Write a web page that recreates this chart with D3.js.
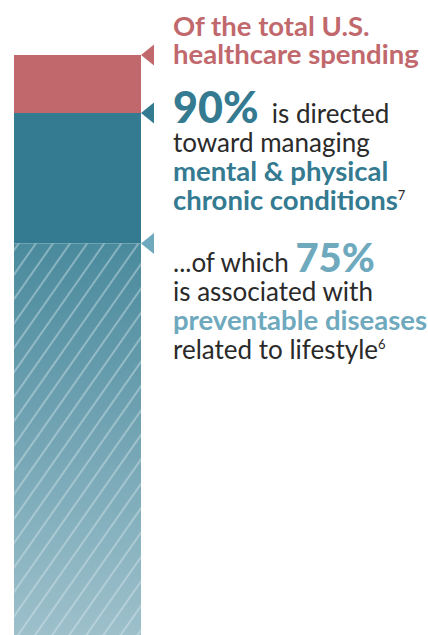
<!DOCTYPE html>
<html>
<head>
<meta charset="utf-8">
<script src="https://cdn.jsdelivr.net/npm/d3@7"></script>
<style>
  body { margin: 0; background: #fff; }
  text { font-family: Lato, "Open Sans", sans-serif; }
</style>
</head>
<body>
<div id="chart"></div>
<script>
// share of total US healthcare spending (percent), top of each segment
var segments = ["Total spending", "Chronic conditions", "Preventable diseases"];
var shares = [100, 90, 67.5];
var segColors = ["#c1686d", "#347a91", "hatch"];
var arrowColors = ["#c1686d", "#347a91", "#6ea9bd"];

// text blocks, one per segment: each line is a list of [text, style]
var blockLines = [
  [
    [["Of the total U.S.", "red"]],
    [["healthcare spending", "red"]]
  ],
  [
    [["90%", "bigBlue"], ["  is directed", "plain"]],
    [["toward managing", "plain"]],
    [["mental & physical", "blue"]],
    [["chronic conditions", "blue"], ["7", "sup"]]
  ],
  [
    [["...of which ", "plain"], ["75%", "bigLight"]],
    [["is associated with", "plain"]],
    [["preventable diseases", "light"]],
    [["related to lifestyle", "plain"], ["6", "sup"]]
  ]
];

var styles = {
  red:      { fill: "#c1686d", weight: 700, size: 27.5 },
  blue:     { fill: "#347a91", weight: 700, size: 27.5 },
  light:    { fill: "#6ea9bd", weight: 700, size: 27.5 },
  plain:    { fill: "#2a2a2a", weight: 400, size: 26 },
  bigBlue:  { fill: "#347a91", weight: 900, size: 43 },
  bigLight: { fill: "#6ea9bd", weight: 900, size: 40 },
  sup:      { fill: "#2a2a2a", weight: 400, size: 13 }
};

var width = 428, height = 635;
var barX = 14, barW = 127;

var svg = d3.select("#chart").append("svg")
  .attr("width", width)
  .attr("height", height);

var y = d3.scaleLinear().domain([0, 100]).range([height, 55]);

var defs = svg.append("defs");
var grad = defs.append("linearGradient")
  .attr("id", "fade")
  .attr("x1", 0).attr("y1", 0).attr("x2", 0).attr("y2", 1);
grad.append("stop").attr("offset", "0%").attr("stop-color", "#4a8a9d");
grad.append("stop").attr("offset", "100%").attr("stop-color", "#9dc0cb");

var pat = defs.append("pattern")
  .attr("id", "hatch")
  .attr("patternUnits", "userSpaceOnUse")
  .attr("width", 14).attr("height", 14)
  .attr("patternTransform", "rotate(35)");
pat.append("line")
  .attr("x1", 1).attr("y1", 0).attr("x2", 1).attr("y2", 14)
  .attr("stroke", "#dbe9ee")
  .attr("stroke-opacity", 0.75)
  .attr("stroke-width", 1.1);

var segData = shares.map(function (s, i) {
  return { name: segments[i], top: s, bottom: i < shares.length - 1 ? shares[i + 1] : 0, color: segColors[i], arrow: arrowColors[i] };
});

var bars = svg.append("g");
segData.forEach(function (d) {
  var fills = d.color === "hatch" ? ["url(#fade)", "url(#hatch)"] : [d.color];
  fills.forEach(function (f) {
    bars.append("rect")
      .attr("x", barX).attr("width", barW)
      .attr("y", y(d.top)).attr("height", y(d.bottom) - y(d.top))
      .attr("fill", f);
  });
});

// arrow markers pointing at the top of each segment
svg.append("g").selectAll("path")
  .data(segData)
  .enter()
  .append("path")
  .attr("d", function (d) {
    var cy = y(d.top);
    return "M" + (barX + barW) + "," + cy + "L" + (barX + barW + 13) + "," + (cy - 10.5) + "L" + (barX + barW + 13) + "," + (cy + 10.5) + "Z";
  })
  .attr("fill", function (d) { return d.arrow; });

// text
var textX = 173;
var blockTops = [36, 123, 272];
var lineGap = 29;

blockLines.forEach(function (lines, b) {
  lines.forEach(function (parts, li) {
    var t = svg.append("text")
      .attr("x", textX)
      .attr("y", blockTops[b] + li * (b === 0 ? 28 : lineGap));
    parts.forEach(function (p) {
      var st = styles[p[1]];
      var ts = t.append("tspan")
        .text(p[0])
        .attr("fill", st.fill)
        .attr("font-weight", st.weight)
        .attr("font-size", st.size)
        .style("white-space", "pre");
      if (p[1] === "sup") ts.attr("dy", -10);
    });
  });
});
</script>
</body>
</html>
